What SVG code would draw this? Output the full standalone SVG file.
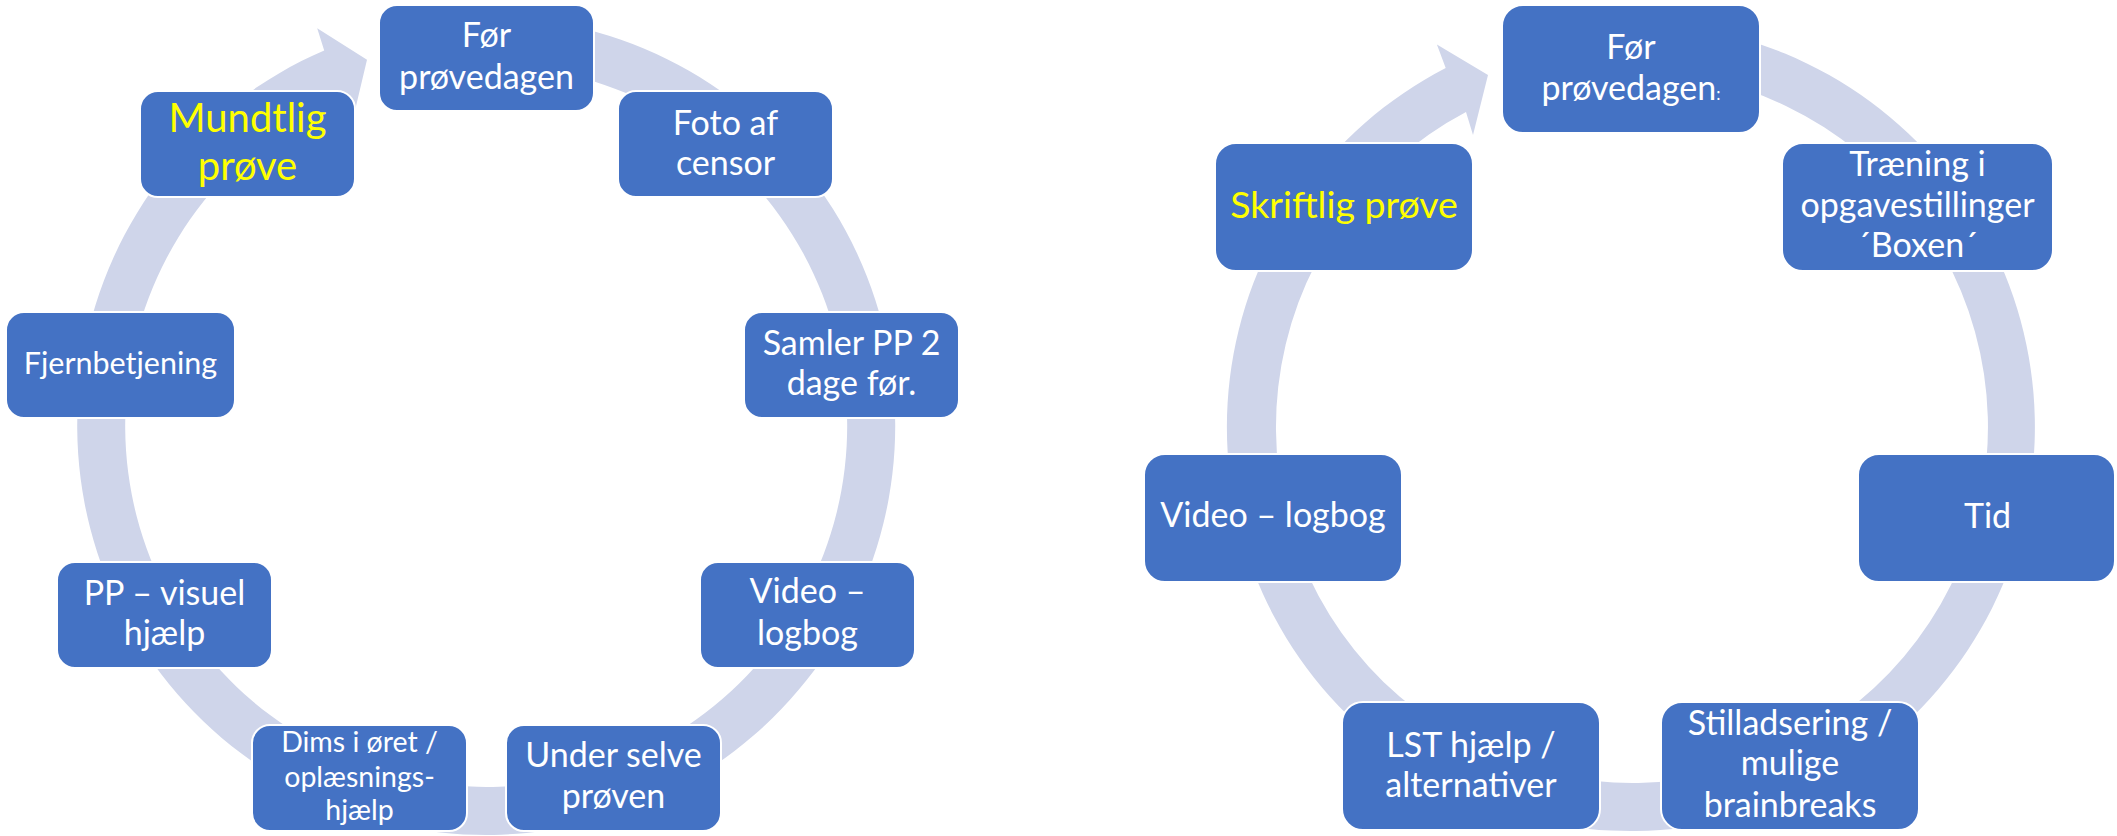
<svg xmlns="http://www.w3.org/2000/svg" width="2117" height="836" viewBox="0 0 2117 836">
<style>
.ring{fill:#CFD5EA;stroke:none}
.box{fill:#4472C4;stroke:#FFFFFF;stroke-width:2}
.t{font-family:Lato,"Open Sans","Liberation Sans",sans-serif;fill:#FFFFFF;text-anchor:middle;font-size:34px}
.y{fill:#FFFF00}
</style>
<rect x="0" y="0" width="2117" height="836" fill="#FFFFFF"/>
<g id="connectors">
<path class="ring" d="M 471.7 17.2 A 409 409 0 1 1 324.2 50.4 L 317.2 28.3 L 367 59.8 L 353.9 114.9 L 343.2 94.5 A 361 361 0 1 0 473.4 65.2 Z"/>
<path class="ring" d="M 1616.9 23.3 A 404 404 0 1 1 1445.7 68 L 1436.9 44.4 L 1488 74.9 L 1473 135 L 1466 112 A 356 356 0 1 0 1618.6 71.2 Z"/>
</g>
<g id="left-for-provedagen"><rect class="box" x="379" y="5" width="215" height="106" rx="18"/><text class="t" x="486.5" y="47">Før</text><text class="t" x="486.5" y="89">prøvedagen</text></g>
<g id="left-foto"><rect class="box" x="618" y="91" width="215" height="106" rx="18"/><text class="t" x="725.5" y="135">Foto af</text><text class="t" x="725.5" y="175">censor</text></g>
<g id="left-samler"><rect class="box" x="744" y="312" width="215" height="106" rx="18"/><text class="t" x="851.5" y="355">Samler PP 2</text><text class="t" x="851.5" y="395">dage før.</text></g>
<g id="left-video"><rect class="box" x="700" y="562" width="215" height="106" rx="18"/><text class="t" x="807.5" y="603">Video –</text><text class="t" x="807.5" y="645">logbog</text></g>
<g id="left-under"><rect class="box" x="506" y="725" width="215" height="106" rx="18"/><text class="t" x="613.5" y="767">Under selve</text><text class="t" x="613.5" y="808">prøven</text></g>
<g id="left-dims"><rect class="box" x="252" y="725" width="215" height="106" rx="18"/><text class="t" x="359.5" y="752" style="font-size:28.5px">Dims i øret /</text><text class="t" x="359.5" y="787" style="font-size:28.5px">oplæsnings-</text><text class="t" x="359.5" y="820" style="font-size:28.5px">hjælp</text></g>
<g id="left-pp"><rect class="box" x="57" y="562" width="215" height="106" rx="18"/><text class="t" x="164.5" y="605">PP – visuel</text><text class="t" x="164.5" y="645">hjælp</text></g>
<g id="left-fjern"><rect class="box" x="6" y="312" width="229" height="106" rx="18"/><text class="t" x="120.5" y="374" style="font-size:30.5px">Fjernbetjening</text></g>
<g id="left-mundtlig"><rect class="box" x="140" y="91" width="215" height="106" rx="18"/><text class="t y" x="247.5" y="132" style="font-size:40px">Mundtlig</text><text class="t y" x="247.5" y="180" style="font-size:40px">prøve</text></g>
<g id="right-for-provedagen"><rect class="box" x="1502" y="5" width="258" height="128" rx="21"/><text class="t" x="1631" y="59">Før</text><text class="t" x="1631" y="100">prøvedagen<tspan style="font-size:17px">:</tspan></text></g>
<g id="right-traening"><rect class="box" x="1782" y="143" width="271" height="128" rx="21"/><text class="t" x="1917.5" y="176">Træning i</text><text class="t" x="1917.5" y="217">opgavestillinger</text><text class="t" x="1917.5" y="257">´Boxen´</text></g>
<g id="right-tid"><rect class="box" x="1858" y="454" width="257" height="128" rx="21"/><text class="t" x="1987.5" y="528">Tid</text></g>
<g id="right-stilladsering"><rect class="box" x="1661" y="702" width="258" height="128" rx="21"/><text class="t" x="1790" y="735">Stilladsering /</text><text class="t" x="1790" y="775">mulige</text><text class="t" x="1790" y="817">brainbreaks</text></g>
<g id="right-lst"><rect class="box" x="1342" y="702" width="258" height="128" rx="21"/><text class="t" x="1471" y="757">LST hjælp /</text><text class="t" x="1471" y="797">alternativer</text></g>
<g id="right-video"><rect class="box" x="1144" y="454" width="258" height="128" rx="21"/><text class="t" x="1273" y="527">Video – logbog</text></g>
<g id="right-skriftlig"><rect class="box" x="1215" y="143" width="258" height="128" rx="21"/><text class="t y" x="1344" y="218" style="font-size:37.5px">Skriftlig prøve</text></g>
</svg>
